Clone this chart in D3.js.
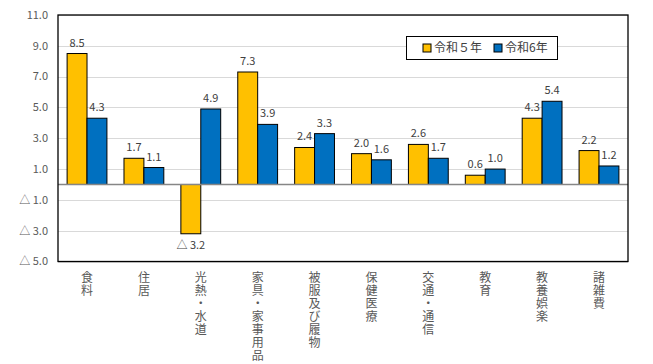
<!DOCTYPE html>
<html><head><meta charset="utf-8">
<script src="https://cdn.jsdelivr.net/npm/d3@7/dist/d3.min.js"></script>
<style>body{margin:0;background:#fff;} text{font-family:"Noto Sans CJK JP","Noto Sans",sans-serif;}</style>
</head><body><svg id="c" width="653" height="364"></svg>
<script>
const categories = ["食料","住居","光熱・水道","家具・家事用品","被服及び履物","保健医療","交通・通信","教育","教養娯楽","諸雑費"];
const seriesNames = ["令和５年","令和6年"];
const r5 = [8.5,1.7,-3.2,7.3,2.4,2.0,2.6,0.6,4.3,2.2];
const r6 = [4.3,1.1,4.9,3.9,3.3,1.6,1.7,1.0,5.4,1.2];
const yTicks = [11,9,7,5,3,1,-1,-3,-5];
const colors = ["#FFC000","#0070C0"];

const svg = d3.select("#c");
const L=58, R=628, T=15, B=261.5;
const x = d3.scaleBand().domain(categories).range([L,R]).paddingInner(0.3).paddingOuter(0.16);
const x1 = d3.scaleBand().domain([0,1]).range([0,x.bandwidth()]);
const y = d3.scaleLinear().domain([-5,11]).range([B,T]);
const fmt = v => v<0 ? "△ "+Math.abs(v).toFixed(1) : v.toFixed(1);

// grid
svg.append("g").selectAll("line").data(yTicks).join("line")
 .attr("x1",L).attr("x2",R).attr("y1",d=>Math.round(y(d))+0.5).attr("y2",d=>Math.round(y(d))+0.5)
 .attr("stroke","#d9d9d9").attr("stroke-width",1);
// y labels
svg.append("g").selectAll("text").data(yTicks).join("text")
 .attr("x",48).attr("y",d=>y(d)).attr("dy","0.35em").attr("text-anchor","end")
 .attr("font-size",11).attr("fill","#595959").text(fmt);

// bars
const data = categories.map((c,i)=>({c, v:[r5[i],r6[i]]}));
const g = svg.append("g");
data.forEach(d=>{
  d.v.forEach((v,k)=>{
    const xx = x(d.c)+x1(k);
    g.append("rect").attr("x",xx).attr("width",x1.bandwidth())
     .attr("y",y(Math.max(0,v))).attr("height",Math.abs(y(v)-y(0)))
     .attr("fill",colors[k]).attr("stroke","#000").attr("stroke-width",1);
    g.append("text").attr("x",xx+x1.bandwidth()/2)
     .attr("y", v>=0 ? y(v)-7 : y(v)+15)
     .attr("text-anchor","middle").attr("font-size",11).attr("fill","#404040").text(fmt(v));
  });
});
// zero line
svg.append("line").attr("x1",L).attr("x2",R).attr("y1",y(0)).attr("y2",y(0)).attr("stroke","#868686").attr("stroke-width",1.5);
// frame
svg.append("rect").attr("x",L).attr("y",T).attr("width",R-L).attr("height",B-T).attr("fill","none").attr("stroke","#000").attr("stroke-width",1.3);

// category labels vertical
svg.append("g").selectAll("text").data(categories).join("text")
 .attr("x",d=>x(d)+x.bandwidth()/2).attr("y",271)
 .attr("writing-mode","vertical-rl").style("text-orientation","upright")
 .attr("letter-spacing",1)
 .attr("font-size",12).attr("fill","#595959").text(d=>d);

// legend
const lg = svg.append("g");
lg.append("rect").attr("x",406.5).attr("y",36.5).attr("width",151).attr("height",23).attr("fill","#fff").attr("stroke","#000").attr("stroke-width",1);
const lx=[423,494];
seriesNames.forEach((n,k)=>{
  lg.append("rect").attr("x",lx[k]).attr("y",44).attr("width",8).attr("height",8).attr("fill",colors[k]).attr("stroke","#000").attr("stroke-width",1);
  lg.append("text").attr("x",lx[k]+11).attr("y",48).attr("dy","0.35em").attr("font-size",12).attr("fill","#404040").text(n);
});
</script></body></html>
